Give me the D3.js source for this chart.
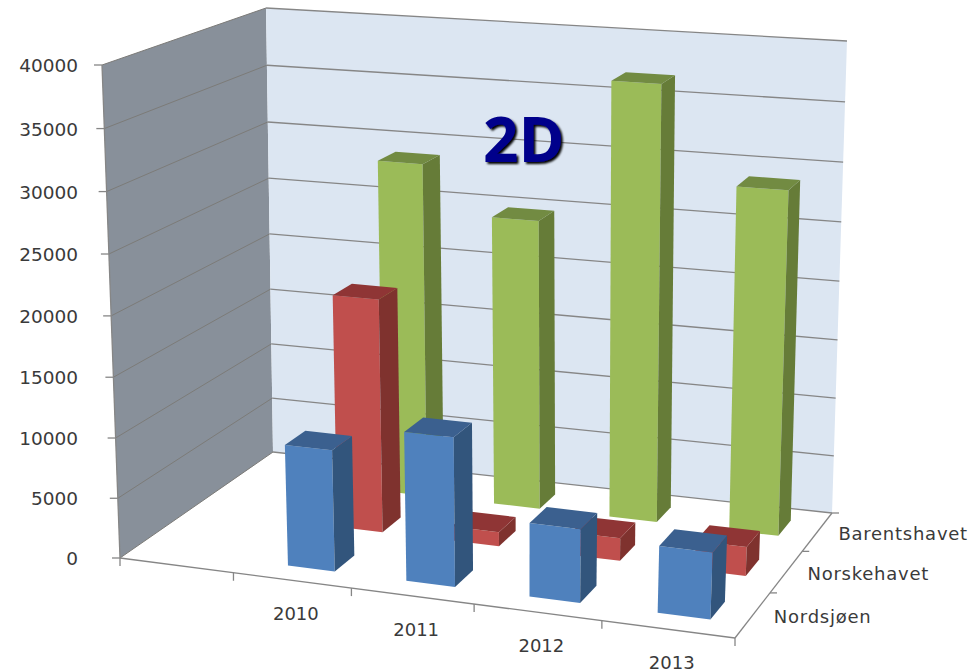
<!DOCTYPE html>
<html>
<head>
<meta charset="utf-8">
<script src="https://d3js.org/d3.v7.min.js"></script>
<style>
  html, body { margin: 0; padding: 0; background: #fff; }
  svg { display: block; }
  text { font-family: "DejaVu Sans", sans-serif; fill: #3a3a3a; }
</style>
</head>
<body>
<div id="chart"></div>
<script>
const categories = ['', '2010', '2011', '2012', '2013'];
const seriesNames = ['Nordsjøen', 'Norskehavet', 'Barentshavet'];
const nordsjoen = [null, 10000, 12150, 5950, 5350];
const norskehavet = [null, 19700, 1200, 1900, 2400];
const barentshavet = [null, 28850, 24800, 36900, 28950];
const seriesValues = [nordsjoen, norskehavet, barentshavet];
const colours = [
  { front: '#4f81bd', side: '#33547c', top: '#3b618f' },
  { front: '#c0504d', side: '#7f322f', top: '#8f3634' },
  { front: '#9bbb59', side: '#667c38', top: '#728b42' }
];

const width = 970, height = 672;

// corners of the chart box as seen on screen
const floorBox = [[120, 558], [735, 638], [832, 513], [273, 452]];
const topBox = [[102, 65], [757, 113], [847, 41], [266, 8]];

// unit square -> quad
const homography = (q) => {
  const [[x0, y0], [x1, y1], [x2, y2], [x3, y3]] = q;
  const dx1 = x1 - x2, dx2 = x3 - x2, sx = x0 - x1 + x2 - x3;
  const dy1 = y1 - y2, dy2 = y3 - y2, sy = y0 - y1 + y2 - y3;
  const den = dx1 * dy2 - dx2 * dy1;
  const g = (sx * dy2 - dx2 * sy) / den;
  const h = (dx1 * sy - sx * dy1) / den;
  const a = x1 - x0 + g * x1, b = x3 - x0 + h * x3;
  const d = y1 - y0 + g * y1, e = y3 - y0 + h * y3;
  return (u, v) => {
    const w = g * u + h * v + 1;
    return [(a * u + b * v + x0) / w, (d * u + e * v + y0) / w];
  };
};

const floorH = homography(floorBox);
const topH = homography(topBox);

// bars sit a little right of the slot centre in the original
const xScale = d3.scaleBand().domain(categories).range([0.007, 1.007]).paddingInner(0.6).paddingOuter(0.3);
const xSlot = d3.scaleBand().domain(categories).range([0, 1]);
const zScale = d3.scaleBand().domain(seriesNames).range([0, 1]).paddingInner(0.6).paddingOuter(0.3);
const zSlot = d3.scaleBand().domain(seriesNames).range([0, 1]);
const yScale = d3.scaleLinear().domain([0, 40000]).range([0, 1]);

const project = (x, z, value) => {
  const t = yScale(value);
  const k = 0.965;
  const s = k * t / (1 + (k - 1) * t);   // perspective along the vertical
  const p = floorH(x, z), q = topH(x, z);
  return [p[0] + (q[0] - p[0]) * s, p[1] + (q[1] - p[1]) * s];
};

const svg = d3.select('#chart').append('svg')
  .attr('width', width)
  .attr('height', height);

const defs = svg.append('defs');
defs.append('filter').attr('id', 'soft')
  .append('feGaussianBlur').attr('stdDeviation', 0.45);
defs.append('filter').attr('id', 'stamp')
  .append('feDropShadow')
    .attr('dx', 2).attr('dy', 2)
    .attr('stdDeviation', 0.8)
    .attr('flood-color', '#000');

const line = (a, b) => `M${a}L${b}`;
const poly = (pts) => `M${pts.join('L')}Z`;
const plot = svg.append('g').attr('filter', 'url(#soft)');
const yMax = yScale.domain()[1];

// walls
plot.append('path')
  .attr('d', poly([project(0, 0, 0), project(0, 1, 0), project(0, 1, yMax), project(0, 0, yMax)]))
  .attr('fill', '#88909a');
plot.append('path')
  .attr('d', poly([project(0, 1, 0), project(1, 1, 0), project(1, 1, yMax), project(0, 1, yMax)]))
  .attr('fill', '#dce6f2');

// gridlines
yScale.ticks(8).forEach(v => {
  plot.append('path')
    .attr('d', line(project(0, 0, v), project(0, 1, v)))
    .attr('stroke', '#7c7b78').attr('stroke-width', 1).attr('fill', 'none');
  plot.append('path')
    .attr('d', line(project(0, 1, v), project(1, 1, v)))
    .attr('stroke', '#868686').attr('stroke-width', 1.3).attr('fill', 'none');
});

// axis lines and ticks
const axisG = plot.append('g').attr('stroke', '#868686').attr('stroke-width', 1.3).attr('fill', 'none');
axisG.append('path').attr('d', line(project(0, 0, 0), project(0, 0, yMax)));
axisG.append('path').attr('d', line(project(0, 0, 0), project(1, 0, 0)));
axisG.append('path').attr('d', line(project(1, 0, 0), project(1, 1, 0)));

yScale.ticks(8).forEach(v => {
  const p = project(0, 0, v);
  axisG.append('path').attr('d', `M${p}h-8`);
  svg.append('text')
    .attr('x', 78).attr('y', p[1] + 7)
    .attr('text-anchor', 'end')
    .style('font-size', '18.5px')
    .text(v);
});

categories.concat(['end']).forEach((c, i) => {
  const x = i < categories.length ? xSlot(c) : 1;
  const p = project(x, 0, 0);
  axisG.append('path').attr('d', `M${p}v8`);
});
categories.filter(c => c).forEach((c, i) => {
  const p = project(xSlot(c) + xSlot.bandwidth() / 2, 0, 0);
  svg.append('text')
    .attr('x', p[0] + 4).attr('y', p[1] + 40)
    .attr('text-anchor', 'middle')
    .style('font-size', '18px')
    .text(c);
});

seriesNames.forEach((s, i) => {
  if (i > 0) axisG.append('path').attr('d', `M${project(1, zSlot(s), 0)}h7`);
  const p = project(1, zSlot(s) + zSlot.bandwidth() / 2, 0);
  svg.append('text')
    .attr('x', p[0] + 21).attr('y', p[1] + 8)
    .style('font-size', '18px')
    .style('letter-spacing', '0.75px')
    .text(s);
});
axisG.append('path').attr('d', `M${project(1, 1, 0)}h7`);

// bars, back row first
const bars = d3.range(seriesNames.length).reverse().flatMap(r =>
  categories.map((c, i) => ({ category: c, row: r, value: seriesValues[r][i] }))
    .filter(d => d.value !== null));

const barG = plot.selectAll('g.bar')
  .data(bars)
  .enter()
  .append('g')
    .attr('class', 'bar');

const corners = (d) => {
  const x0 = xScale(d.category), x1 = x0 + xScale.bandwidth();
  const z0 = zScale(seriesNames[d.row]), z1 = z0 + zScale.bandwidth();
  return { x0, x1, z0, z1 };
};

barG.append('path')
  .attr('d', d => {
    const c = corners(d);
    return poly([project(c.x0, c.z0, 0), project(c.x1, c.z0, 0), project(c.x1, c.z0, d.value), project(c.x0, c.z0, d.value)]);
  })
  .attr('fill', d => colours[d.row].front);
barG.append('path')
  .attr('d', d => {
    const c = corners(d);
    return poly([project(c.x1, c.z0, 0), project(c.x1, c.z1, 0), project(c.x1, c.z1, d.value), project(c.x1, c.z0, d.value)]);
  })
  .attr('fill', d => colours[d.row].side);
barG.append('path')
  .attr('d', d => {
    const c = corners(d);
    return poly([project(c.x0, c.z0, d.value), project(c.x1, c.z0, d.value), project(c.x1, c.z1, d.value), project(c.x0, c.z1, d.value)]);
  })
  .attr('fill', d => colours[d.row].top);

// the 2D stamp
svg.append('text')
  .attr('x', 483).attr('y', 162)
  .attr('filter', 'url(#stamp)')
  .style('font-family', '"Open Sans", sans-serif')
  .style('font-size', '62px').style('font-weight', 700)
  .style('fill', '#00008b')
  .text('2D');
</script>
</body>
</html>
